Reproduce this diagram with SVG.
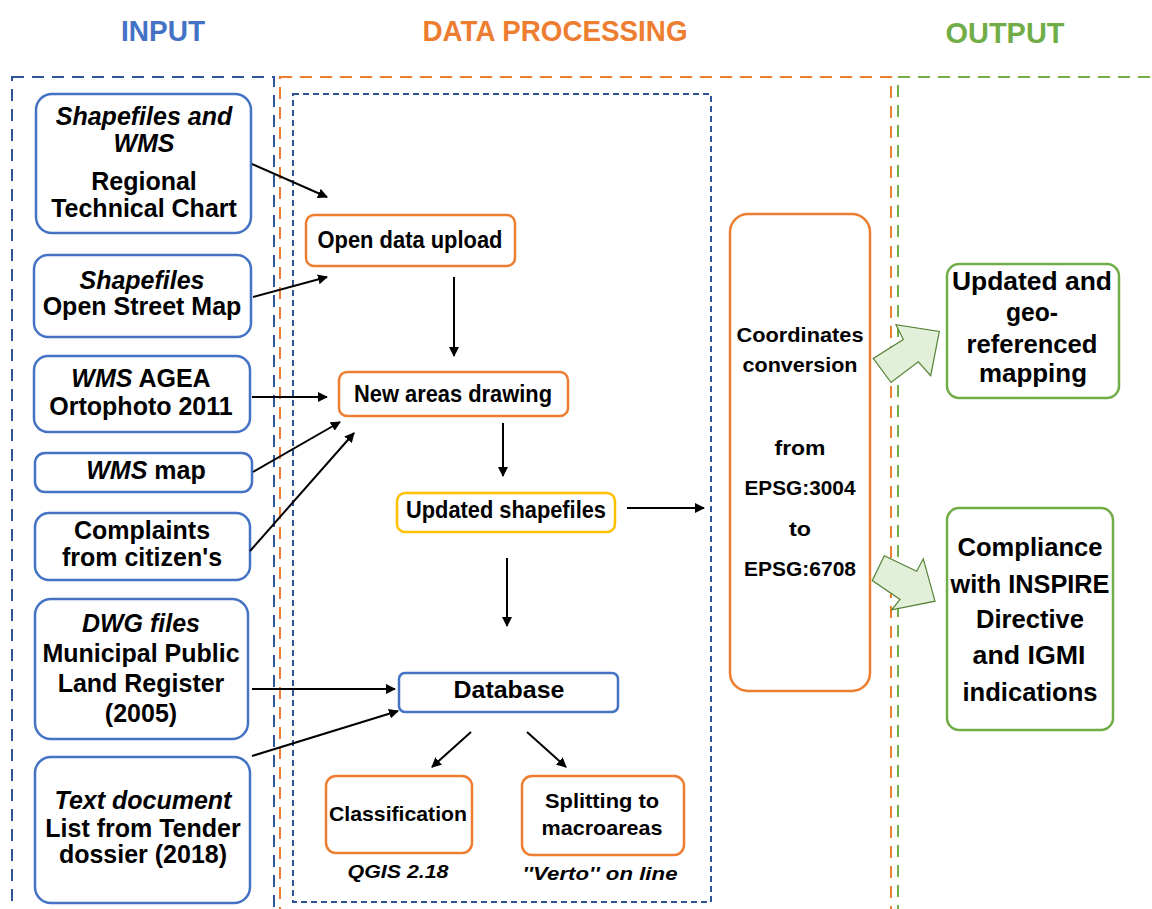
<svg xmlns="http://www.w3.org/2000/svg" width="1152" height="909" viewBox="0 0 1152 909">
<defs>
<style>
.title{font-family:"Liberation Sans",Arial,sans-serif;font-weight:bold;font-size:30px;text-anchor:middle}
.frame{fill:none;stroke-width:2;stroke-dasharray:12 8}
.inbox{fill:#fff;stroke:#4472C4;stroke-width:2.5}
.obox{fill:#fff;stroke:#ED7D31;stroke-width:2.5}
.ybox{fill:#fff;stroke:#FFC000;stroke-width:2.5}
.gbox{fill:#fff;stroke:#70AD47;stroke-width:2.5}
.t{font-family:"Liberation Sans",Arial,sans-serif;font-weight:bold;font-size:25px;text-anchor:middle;fill:#000}
.c{font-family:"Liberation Sans",Arial,sans-serif;font-weight:bold;text-anchor:middle;fill:#000}
.i{font-style:italic}
.conn line{stroke:#000;stroke-width:2;marker-end:url(#ah)}
.big{fill:#E2F0D9;stroke:#548235;stroke-width:1.2;stroke-linejoin:miter}
</style>
<marker id="ah" viewBox="0 0 10 10" refX="9" refY="5" markerWidth="5" markerHeight="5" orient="auto" markerUnits="strokeWidth">
<path d="M0,0 L10,5 L0,10 Z" fill="#000"/>
</marker>
</defs>
<rect width="1152" height="909" fill="#fff"/>

<g id="titles">
<text class="title" x="163" y="41" fill="#4472C4" textLength="84" lengthAdjust="spacingAndGlyphs">INPUT</text>
<text class="title" x="555" y="41" fill="#ED7D31" textLength="265" lengthAdjust="spacingAndGlyphs">DATA PROCESSING</text>
<text class="title" x="1005" y="43" fill="#70AD47" textLength="119" lengthAdjust="spacingAndGlyphs">OUTPUT</text>
</g>

<g id="frames">
<rect class="frame" x="12" y="77" width="262" height="850" stroke="#2F5597"/>
<rect class="frame" x="280" y="77" width="611" height="850" stroke="#ED7D31"/>
<rect class="frame" x="898" y="77" width="270" height="850" stroke="#70AD47"/>
<rect x="293" y="94" width="418" height="808" fill="none" stroke="#2F5597" stroke-width="2" stroke-dasharray="6 4"/>
</g>

<g id="in1">
<rect class="inbox" x="36" y="94" width="215" height="139" rx="16"/>
<text class="t i" x="144" y="125">Shapefiles and</text>
<text class="t i" x="144" y="152">WMS</text>
<text class="t" x="144" y="190">Regional</text>
<text class="t" x="144" y="217">Technical Chart</text>
</g>
<g id="in2">
<rect class="inbox" x="34" y="255" width="217" height="82" rx="14"/>
<text class="t i" x="142" y="289">Shapefiles</text>
<text class="t" x="142" y="315">Open Street Map</text>
</g>
<g id="in3">
<rect class="inbox" x="34" y="356" width="216" height="76" rx="14"/>
<text class="t" x="141" y="387"><tspan class="i">WMS</tspan> AGEA</text>
<text class="t" x="141" y="415">Ortophoto 2011</text>
</g>
<g id="in4">
<rect class="inbox" x="35" y="453" width="217" height="39" rx="10"/>
<text class="t" x="146" y="479"><tspan class="i">WMS</tspan> map</text>
</g>
<g id="in5">
<rect class="inbox" x="35" y="513" width="215" height="67" rx="14"/>
<text class="t" x="142" y="539">Complaints</text>
<text class="t" x="142" y="566">from citizen's</text>
</g>
<g id="in6">
<rect class="inbox" x="35" y="599" width="213" height="140" rx="16"/>
<text class="t i" x="141" y="632">DWG files</text>
<text class="t" x="141" y="662">Municipal Public</text>
<text class="t" x="141" y="692">Land Register</text>
<text class="t" x="141" y="722">(2005)</text>
</g>
<g id="in7">
<rect class="inbox" x="35" y="757" width="215" height="146" rx="16"/>
<text class="t i" x="143" y="809">Text document</text>
<text class="t" x="143" y="837">List from Tender</text>
<text class="t" x="143" y="863">dossier (2018)</text>
</g>

<g id="upload">
<rect class="obox" x="306" y="215" width="209" height="51" rx="8"/>
<text class="c" x="410" y="248" font-size="23" textLength="185" lengthAdjust="spacingAndGlyphs">Open data upload</text>
</g>
<g id="newareas">
<rect class="obox" x="339" y="372" width="229" height="44" rx="8"/>
<text class="c" x="453" y="402" font-size="23" textLength="198" lengthAdjust="spacingAndGlyphs">New areas drawing</text>
</g>
<g id="updshp">
<rect class="ybox" x="397" y="493" width="218" height="39" rx="8"/>
<text class="c" x="506" y="518" font-size="23" textLength="200" lengthAdjust="spacingAndGlyphs">Updated shapefiles</text>
</g>
<g id="database">
<rect x="399" y="673" width="219" height="39" rx="6" fill="#fff" stroke="#4472C4" stroke-width="2.5"/>
<text class="c" x="509" y="698" font-size="24" textLength="111" lengthAdjust="spacingAndGlyphs">Database</text>
</g>
<g id="classif">
<rect class="obox" x="326" y="776" width="146" height="77" rx="10"/>
<text class="c" x="398" y="821" font-size="21" textLength="138" lengthAdjust="spacingAndGlyphs">Classification</text>
<text class="c i" x="398" y="878" font-size="19" textLength="101" lengthAdjust="spacingAndGlyphs">QGIS 2.18</text>
</g>
<g id="split">
<rect class="obox" x="522" y="776" width="162" height="79" rx="10"/>
<text class="c" x="602" y="808" font-size="21" textLength="114" lengthAdjust="spacingAndGlyphs">Splitting to</text>
<text class="c" x="602" y="835" font-size="21" textLength="121" lengthAdjust="spacingAndGlyphs">macroareas</text>
<text class="c i" x="600" y="880" font-size="19" textLength="155" lengthAdjust="spacingAndGlyphs">''Verto'' on line</text>
</g>

<g id="coordconv">
<rect class="obox" x="730" y="214" width="140" height="477" rx="18"/>
<text class="c" x="800" y="342" font-size="21" textLength="127" lengthAdjust="spacingAndGlyphs">Coordinates</text>
<text class="c" x="800" y="372" font-size="21" textLength="115" lengthAdjust="spacingAndGlyphs">conversion</text>
<text class="c" x="800" y="455" font-size="21" textLength="51" lengthAdjust="spacingAndGlyphs">from</text>
<text class="c" x="800" y="495" font-size="21" textLength="111" lengthAdjust="spacingAndGlyphs">EPSG:3004</text>
<text class="c" x="800" y="536" font-size="21" textLength="22" lengthAdjust="spacingAndGlyphs">to</text>
<text class="c" x="800" y="576" font-size="21" textLength="112" lengthAdjust="spacingAndGlyphs">EPSG:6708</text>
</g>

<g id="out1">
<rect class="gbox" x="947" y="264" width="172" height="134" rx="12"/>
<text class="c" x="1032" y="290" font-size="26" textLength="160" lengthAdjust="spacingAndGlyphs">Updated and</text>
<text class="c" x="1032" y="321" font-size="26" textLength="52" lengthAdjust="spacingAndGlyphs">geo-</text>
<text class="c" x="1032" y="353" font-size="26" textLength="131" lengthAdjust="spacingAndGlyphs">referenced</text>
<text class="c" x="1033" y="382" font-size="26" textLength="108" lengthAdjust="spacingAndGlyphs">mapping</text>
</g>
<g id="out2">
<rect class="gbox" x="947" y="508" width="166" height="222" rx="12"/>
<text class="c" x="1030" y="556" font-size="26" textLength="145" lengthAdjust="spacingAndGlyphs">Compliance</text>
<text class="c" x="1030" y="593" font-size="26" textLength="159" lengthAdjust="spacingAndGlyphs">with INSPIRE</text>
<text class="c" x="1030" y="628" font-size="26" textLength="108" lengthAdjust="spacingAndGlyphs">Directive</text>
<text class="c" x="1029" y="664" font-size="26" textLength="113" lengthAdjust="spacingAndGlyphs">and IGMI</text>
<text class="c" x="1030" y="701" font-size="26" textLength="135" lengthAdjust="spacingAndGlyphs">indications</text>
</g>

<g id="connectors" class="conn">
<line x1="252" y1="164" x2="327" y2="197"/>
<line x1="253" y1="297" x2="327" y2="277"/>
<line x1="454" y1="277" x2="454" y2="356"/>
<line x1="252" y1="397" x2="327" y2="397"/>
<line x1="253" y1="472" x2="340" y2="422"/>
<line x1="250" y1="551" x2="354" y2="433"/>
<line x1="503" y1="423" x2="503" y2="476"/>
<line x1="627" y1="508" x2="704" y2="508"/>
<line x1="507" y1="558" x2="507" y2="626"/>
<line x1="252" y1="689" x2="395" y2="689"/>
<line x1="252" y1="756" x2="398" y2="711"/>
<line x1="471" y1="732" x2="432" y2="767"/>
<line x1="527" y1="732" x2="566" y2="767"/>
</g>

<g id="bigarrows">
<polygon class="big" points="891,382.5 873.3,358.4 903.3,339.5 896,324.7 939.3,331.5 930.7,375.6 918.3,361.8"/>
<polygon class="big" points="884.3,555.7 916.7,571.2 923.3,558.8 935,601.2 891.7,609.8 900,599.4 872.3,580.5"/>
</g>
</svg>
